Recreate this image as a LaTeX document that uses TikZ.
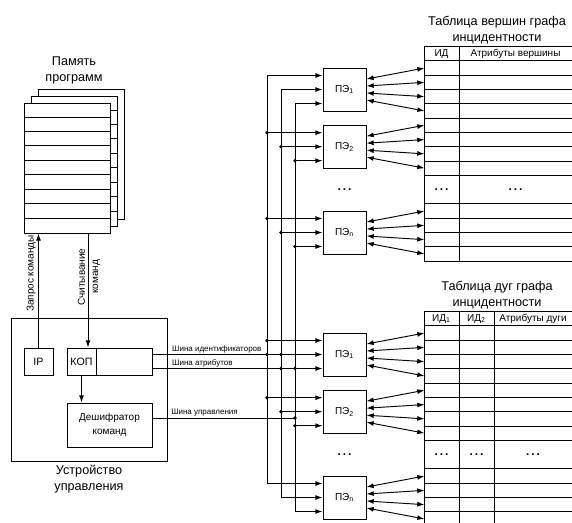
\documentclass[tikz,border=0pt]{standalone}
\usepackage{fontspec}
\setmainfont{Liberation Sans}
\usetikzlibrary{arrows.meta,calc}
\tikzset{
  >={Latex[length=1.9mm,width=1.3mm]},
  pe/.style={draw,minimum size=32.25pt,inner sep=0pt,font=\fontsize{7.5}{9}\selectfont},
  bx/.style={draw,minimum height=20.25pt,inner sep=0pt,font=\fontsize{8}{10}\selectfont},
  sh/.style={draw,fill=white,minimum width=64.5pt,minimum height=97.5pt,inner sep=0pt},
  ttl/.style={align=center,inner sep=1pt,font=\fontsize{9.5}{12}\selectfont},
  sm/.style={inner sep=1pt,font=\fontsize{6}{7}\selectfont},
  rl/.style={inner sep=1pt,rotate=90,align=center,font=\fontsize{7.5}{10}\selectfont},
  hd/.style={inner sep=0pt,font=\fontsize{7.5}{9}\selectfont},
  dt/.style={inner sep=0pt,font=\fontsize{9}{9}\bfseries},
  every picture/.style={line width=0.7pt},
}

\begin{document}
\begin{tikzpicture}[x=0.75pt,y=-0.75pt]
\path[use as bounding box,clip] (0,0) rectangle (572,522);
\node[sh] (m3) at (81,154) {}; \node[sh] (m2) at (74,161) {};
\foreach \k in {1,...,8} \draw ($(m2.north west)+(0,\k*14.44)$) -- ($(m2.north east)+(0,\k*14.44)$);
\node[sh] (m1) at (67,168) {};
\foreach \k in {1,...,8} \draw ($(m1.north west)+(0,\k*14.44)$) -- ($(m1.north east)+(0,\k*14.44)$);
\node[ttl,anchor=south] (mt) at (74,86) {Память\\программ};
\node[draw,minimum width=117pt,minimum height=107.25pt] (cu) at (89,389.5) {};
\node[ttl,anchor=north] (ct) at (89,463) {Устройство\\управления};
\node[bx,minimum width=21.75pt] (ip) at (38.5,361.5) {IP};
\node[bx,minimum width=21.75pt] (kop) at (81.5,361.5) {КОП};
\node[bx,minimum width=42pt,anchor=west] (kf) at (kop.east) {};
\node[bx,minimum width=63.75pt,minimum height=33pt,align=center,font=\fontsize{7.5}{10}\selectfont] (dec) at (109.5,425) {Дешифратор\\команд};
\coordinate (rd) at ($(kop.north)+(6.5,0)$);
\draw[->] (ip.north) -- (ip.north |- m1.south);
\draw[->] (rd |- m1.south) -- (rd);
\draw[->] (kop.south) -- (kop.south |- dec.north);
\node[rl,anchor=south] (zq) at (37.5,273.5) {Запрос команды};
\node[rl] (sc) at (89,277) {Считывание\\команд};

\node[pe] (a1) at (344.5,89.5) {ПЭ\textsubscript{1}};
\node[pe] (a2) at (344.5,146.7) {ПЭ\textsubscript{2}};
\node[pe] (an) at (344.5,232.5) {ПЭ\textsubscript{n}};
\node[dt] (ad) at (344.5,189.6) {.\,.\,.};
\node[ttl,anchor=south] (vt) at (497,46) {Таблица вершин графа\\инцидентности};
\draw (424,46.6) -- (424,261.1) (459,46.6) -- (459,261.1);
\foreach \k in {0,...,9,11,12,13,14,15} \draw (424,46.6+\k*14.3) -- (572,46.6+\k*14.3);
\node[hd] (vh1) at (441.5,53.75) {ИД}; \node[hd] (vh2) at (515.5,53.75) {Атрибуты вершины};
\node[dt] (vd1) at (441.5,189.6) {.\,.\,.}; \node[dt] (vd2) at (515.5,189.6) {.\,.\,.};

\begin{scope}[shift={(0,265)}]
\node[pe] (b1) at (344.5,89.5) {ПЭ\textsubscript{1}};
\node[pe] (b2) at (344.5,146.7) {ПЭ\textsubscript{2}};
\node[pe] (bn) at (344.5,232.5) {ПЭ\textsubscript{n}};
\node[dt] (bd) at (344.5,189.6) {.\,.\,.};
\node[ttl,anchor=south] (et) at (497,46) {Таблица дуг графа\\инцидентности};
\draw (424,46.6) -- (424,261.1) (459,46.6) -- (459,261.1) (494,46.6) -- (494,261.1);
\foreach \k in {0,...,9,11,12,13,14,15} \draw (424,46.6+\k*14.3) -- (572,46.6+\k*14.3);
\node[hd] (eh1) at (441.5,53.75) {ИД\textsubscript{1}}; \node[hd] (eh2) at (476.5,53.75) {ИД\textsubscript{2}};
\node[hd] (eh3) at (533,53.75) {Атрибуты дуги};
\node[dt] (ed1) at (441.5,189.6) {.\,.\,.}; \node[dt] (ed2) at (476.5,189.6) {.\,.\,.};
\node[dt] (ed3) at (533,189.6) {.\,.\,.};
\end{scope}

\foreach \p in {a1,a2,an,b1,b2,bn}{
  \coordinate (\p i1) at ($(\p.west)+(0,-14)$);
  \coordinate (\p i2) at (\p.west);
  \coordinate (\p i3) at ($(\p.west)+(0,14)$);
  \foreach \o/\m in {-10.5/-21.45,-3.5/-7.15,3.5/7.15,10.5/21.45}
    \draw[<->] ($(\p.east)+(0,\o)$) -- ($(\p.east)+(58,\m)$);
}
\coordinate (s1) at (267,0); \coordinate (s2) at (281,0); \coordinate (s3) at (295,0);
\draw[<->] (a1i1) -- (a1i1 -| s1) -- (bni1 -| s1) -- (bni1);
\draw[<->] (a1i2) -- (a1i2 -| s2) -- (bni2 -| s2) -- (bni2);
\draw[<->] (a1i3) -- (a1i3 -| s3) -- (bni3 -| s3) -- (bni3);
\foreach \p in {a2,an,b1,b2} \foreach \i in {1,2,3}{
  \draw[->] (\p i\i -| s\i) -- (\p i\i); \fill (\p i\i -| s\i) circle (1.8);
}

\draw ($(kf.east)+(0,-7)$) coordinate (ib) -- (ib -| s2); \fill (ib -| s1) circle (1.8);
\draw ($(kf.east)+(0,7)$) coordinate (ab) -- (ab -| s3); \fill (ab -| s2) circle (1.8);
\draw ($(dec.east)+(0,-7)$) coordinate (cb) -- (cb -| s3); \fill (cb -| s3) circle (1.8);
\node[sm,anchor=south west] (il) at ($(ib)+(17,0)$) {Шина идентификаторов};
\node[sm,anchor=south west] (al) at ($(ab)+(17,0)$) {Шина атрибутов};
\node[sm,anchor=south west] (cl) at ($(cb)+(17,0)$) {Шина управления};
\end{tikzpicture}
\end{document}
